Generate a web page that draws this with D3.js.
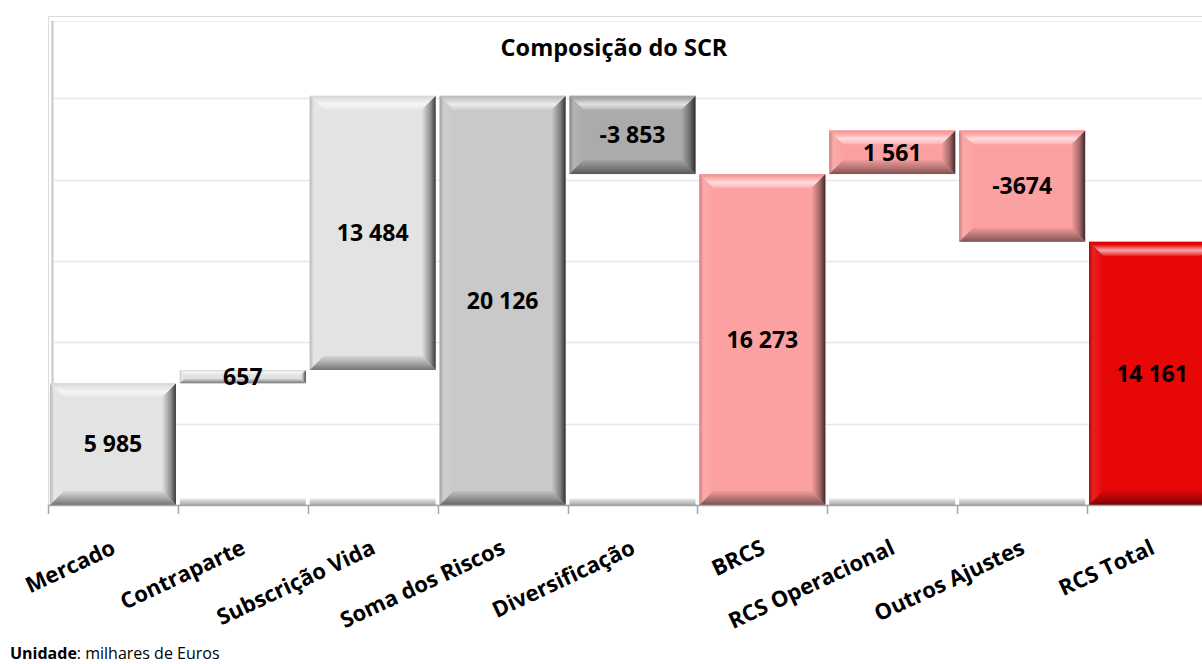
<!DOCTYPE html>
<html>
<head>
<meta charset="utf-8">
<script src="https://cdn.jsdelivr.net/npm/d3@7"></script>
<style>
  body { margin: 0; background: #fff; overflow: hidden; }
  text { font-family: "Open Sans", sans-serif; }
</style>
</head>
<body>
<div id="chart"></div>
<script>
// categories of the waterfall
var categories = ["Mercado", "Contraparte", "Subscrição Vida", "Soma dos Riscos", "Diversificação",
                  "BRCS", "RCS Operacional", "Outros Ajustes", "RCS Total"];
// step of each bar as drawn in the picture (null = total bar, takes the running sum)
var steps = [5985, 657, 13484, null, -3853, null, 2150, -5480, null];
// the numbers printed on the bars
var valueLabels = ["5 985", "657", "13 484", "20 126", "-3 853", "16 273", "1 561", "-3674", "14 161"];
// y gridlines
var yTicks = [4000, 8000, 12000, 16000, 20000, 24000];

var W = 1202, H = 664;
var plotLeft = 48, plotTop = 17, plotBottom = 505, plotRight = 1217; // last category runs off the page

var svg = d3.select("#chart").append("svg")
    .attr("width", W)
    .attr("height", H);

var defs = svg.append("defs");

// scales
var x = d3.scaleBand()
    .domain(categories)
    .range([plotLeft, plotRight])
    .paddingInner(0.03)
    .paddingOuter(0.015);

var y = d3.scaleLinear()
    .domain([0, 24000])
    .range([plotBottom, plotTop]);

// colours per bar
var colour = d3.scaleOrdinal()
    .domain(categories)
    .range(["#e3e3e3", "#e3e3e3", "#e3e3e3", "#c9c9c9", "#ababab",
            "#fca1a2", "#fca1a2", "#fca1a2", "#e80707"]);

// build waterfall segments
var running = 0;
var bars = categories.map(function (c, i) {
    var start, end;
    if (steps[i] === null) {
        start = 0; end = running;
    } else {
        start = running; end = running + steps[i];
        running = end;
    }
    return { cat: c, start: start, end: end, total: steps[i] === null, label: valueLabels[i] };
});

// bevel gradients, one set per colour
function mix(a, b, t) { return d3.interpolateRgb(a, b)(t); }
var gradId = {};
colour.range().forEach(function (c) {
    if (gradId[c]) return;
    var key = "g" + c.slice(1);
    gradId[c] = key;
    function grad(id, x2, y2, stops) {
        var g = defs.append("linearGradient").attr("id", id)
            .attr("x1", 0).attr("y1", 0).attr("x2", x2).attr("y2", y2);
        stops.forEach(function (s) {
            g.append("stop").attr("offset", s[0]).attr("stop-color", s[1]);
        });
    }
    grad(key + "top", 0, 1, [[0, mix(c, "#000", 0.06)], [0.2, c], [0.6, mix(c, "#fff", 0.65)], [1, mix(c, "#fff", 0.15)]]);
    grad(key + "bot", 0, 1, [[0, mix(c, "#000", 0.05)], [0.6, mix(c, "#000", 0.3)], [1, mix(c, "#000", 0.5)]]);
    grad(key + "left", 1, 0, [[0, mix(c, "#000", 0.2)], [0.3, mix(c, "#fff", 0.1)], [1, c]]);
    grad(key + "right", 1, 0, [[0, c], [0.6, mix(c, "#000", 0.35)], [1, mix(c, "#000", 0.75)]]);
});
var baseGrad = defs.append("linearGradient").attr("id", "base")
    .attr("x1", 0).attr("y1", 0).attr("x2", 0).attr("y2", 1);
baseGrad.append("stop").attr("offset", 0).attr("stop-color", "#f4f4f4");
baseGrad.append("stop").attr("offset", 0.4).attr("stop-color", "#c4c4c4");
baseGrad.append("stop").attr("offset", 1).attr("stop-color", "#8c8c8c");

// plot frame
svg.append("rect")
    .attr("x", plotLeft + 0.5).attr("y", plotTop - 0.5)
    .attr("width", plotRight - plotLeft + 10).attr("height", plotBottom - plotTop + 0.5)
    .attr("fill", "none").attr("stroke", "#dcdcdc");
svg.append("line")
    .attr("x1", plotLeft).attr("x2", plotRight + 10)
    .attr("y1", plotTop + 4.5).attr("y2", plotTop + 4.5)
    .attr("stroke", "#ececec");
svg.append("line")
    .attr("x1", plotLeft + 4.5).attr("x2", plotLeft + 4.5)
    .attr("y1", plotTop + 4).attr("y2", plotBottom)
    .attr("stroke", "#c8c8c8").attr("stroke-width", 2);

// gridlines
svg.append("g").selectAll("line")
    .data(yTicks.slice(0, -1))
    .enter().append("line")
    .attr("x1", plotLeft + 6).attr("x2", plotRight + 10)
    .attr("y1", function (d) { return Math.round(y(d)) + 0.5; })
    .attr("y2", function (d) { return Math.round(y(d)) + 0.5; })
    .attr("stroke", "#e6e6e6").attr("stroke-width", 1.5);

// invisible base of floating bars: only its bevelled foot shows
var bw = x.bandwidth();
svg.append("g").selectAll("rect")
    .data(bars.filter(function (d) { return !d.total && d.start > 0; }))
    .enter().append("rect")
    .attr("x", function (d) { return x(d.cat); })
    .attr("y", plotBottom - 7)
    .attr("width", bw)
    .attr("height", 7)
    .attr("fill", "url(#base)")
    .attr("opacity", 0.75);

// bars with bevel
var barG = svg.append("g").selectAll("g")
    .data(bars)
    .enter().append("g");

barG.each(function (d) {
    var g = d3.select(this);
    var x0 = x(d.cat), w = bw;
    var y0 = y(Math.max(d.start, d.end)), y1 = y(Math.min(d.start, d.end));
    var h = y1 - y0;
    var c = colour(d.cat), k = gradId[c];
    var b = Math.min(14, h * 0.35, w * 0.35);
    g.append("rect").attr("x", x0).attr("y", y0).attr("width", w).attr("height", h).attr("fill", c);
    function poly(pts, fill) {
        g.append("polygon")
            .attr("points", pts.map(function (p) { return p.join(","); }).join(" "))
            .attr("fill", fill);
    }
    poly([[x0, y0], [x0 + b, y0 + b], [x0 + b, y1 - b], [x0, y1]], "url(#" + k + "left)");
    poly([[x0 + w, y0], [x0 + w - b, y0 + b], [x0 + w - b, y1 - b], [x0 + w, y1]], "url(#" + k + "right)");
    poly([[x0, y0], [x0 + w, y0], [x0 + w - b, y0 + b], [x0 + b, y0 + b]], "url(#" + k + "top)");
    poly([[x0, y1], [x0 + w, y1], [x0 + w - b, y1 - b], [x0 + b, y1 - b]], "url(#" + k + "bot)");
});

// value labels
svg.append("g").selectAll("text")
    .data(bars)
    .enter().append("text")
    .attr("x", function (d) { return x(d.cat) + bw / 2; })
    .attr("y", function (d) { return (y(d.start) + y(d.end)) / 2; })
    .attr("dy", "0.36em")
    .attr("text-anchor", "middle")
    .attr("font-size", 23)
    .attr("font-weight", "bold")
    .attr("fill", "#000")
    .text(function (d) { return d.label; });

// x axis with ticks at category boundaries
var gap = (x.step() - bw) / 2;
var bounds = categories.map(function (c) { return x(c) - gap; });
var axis = svg.append("g");
axis.append("line")
    .attr("x1", plotLeft).attr("x2", plotRight + 10)
    .attr("y1", plotBottom + 0.5).attr("y2", plotBottom + 0.5)
    .attr("stroke", "#a6a6a6").attr("stroke-width", 1.5);
axis.selectAll(".tick")
    .data(bounds)
    .enter().append("line")
    .attr("x1", function (d) { return Math.round(d) + 0.5; })
    .attr("x2", function (d) { return Math.round(d) + 0.5; })
    .attr("y1", plotBottom).attr("y2", plotBottom + 9)
    .attr("stroke", "#a6a6a6").attr("stroke-width", 1.5);
axis.selectAll("text")
    .data(categories)
    .enter().append("text")
    .attr("transform", function (d) {
        return "translate(" + (x(d) + bw / 2 + 4) + "," + (plotBottom + 48) + ") rotate(-25)";
    })
    .attr("text-anchor", "end")
    .attr("font-size", 22)
    .attr("font-weight", "bold")
    .attr("fill", "#000")
    .text(function (d) { return d; });

// title
svg.append("text")
    .attr("x", 614).attr("y", 56)
    .attr("text-anchor", "middle")
    .attr("font-size", 23.5)
    .attr("font-weight", "bold")
    .text("Composição do SCR");

// unit note
var note = svg.append("text")
    .attr("x", 10).attr("y", 659)
    .attr("font-size", 16);
note.append("tspan").attr("font-weight", "bold").text("Unidade");
note.append("tspan").text(": milhares de Euros");
</script>
</body>
</html>
